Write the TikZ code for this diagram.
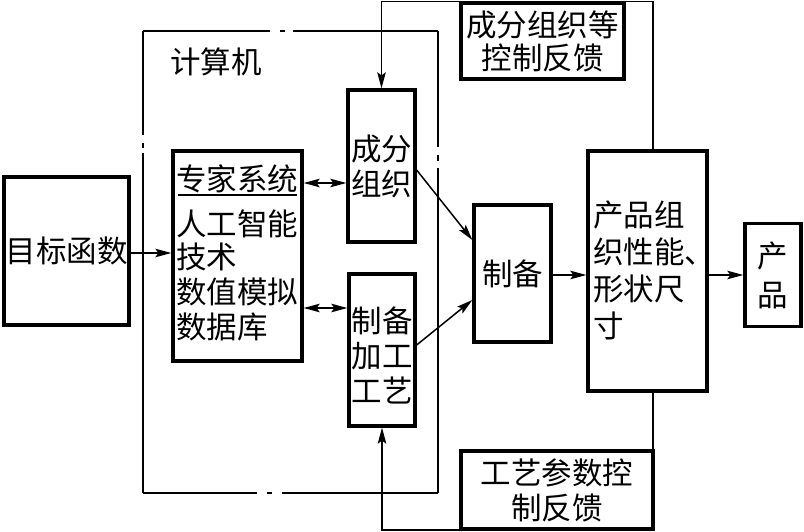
\documentclass[tikz,border=0pt]{standalone}
\usepackage{fontspec}
\setmainfont{Noto Sans CJK SC}
\usetikzlibrary{arrows.meta}
\begin{document}
\begin{tikzpicture}[x=1pt,y=-1pt,
  box/.style={draw, line width=3.3pt, inner sep=0pt, rectangle, fill=white},
  txt/.style={font=\fontsize{30.5}{35}\selectfont, inner sep=0pt, align=center},
  ln/.style={line width=1.5pt},
  arr/.style={ln, -{Stealth[length=16pt,width=8.5pt,inset=3pt]}},
  darr/.style={ln, {Stealth[length=16pt,width=8.5pt,inset=3pt]}-{Stealth[length=16pt,width=8.5pt,inset=3pt]}}]
\useasboundingbox (0,0) rectangle (804,532);

% computer boundary (dash-dot)
\draw[ln] (143,31) -- (270,31) (280,31) -- (285,31) (293,31) -- (438,31)
          (438,31) -- (438,147) (438,155) -- (438,161) (438,168) -- (438,493)
          (438,493) -- (282,493) (272,493) -- (267,493) (257,493) -- (143,493)
          (143,493) -- (143,153) (143,148) -- (143,143) (143,135) -- (143,31);
\node[txt] (computer) at (216,62) {计算机};

% feedback line corners
\coordinate (t1) at (653,1.5);
\coordinate (b1) at (653,530);

% boxes
\node[box, txt, minimum width=125pt, minimum height=148pt] (goal) at (66.5,251) {目标函数};
\node[box, minimum width=129pt, minimum height=210pt] (expert) at (237.5,256) {};
\node[txt, anchor=west] (e1) at (176,179) {专家系统};
\draw[ln] (178,195) -- (297,195);
\node[txt, anchor=west] (e2) at (176,224) {人工智能};
\node[txt, anchor=west] (e3) at (176,257) {技术};
\node[txt, anchor=west] (e4) at (176,292) {数值模拟};
\node[txt, anchor=west] (e5) at (176,327) {数据库};

\node[box, txt, minimum width=67pt, minimum height=152pt] (comp) at (381.5,166) {成分\\组织};
\node[box, minimum width=66pt, minimum height=152pt] (proc) at (382,350) {};
\node[txt] (proct) at (382,355) {制备\\加工\\工艺};
\node[box, txt, minimum width=77pt, minimum height=137pt] (prep) at (512.5,273.5) {制备};
\node[box, minimum width=119pt, minimum height=240pt] (prop) at (647.5,271) {};
\node[txt, anchor=west, align=left, font=\fontsize{30.5}{37}\selectfont] (propt) at (593,270) {产品组\\织性能、\\形状尺\\寸};
\node[box, txt, minimum width=56pt, minimum height=103pt, font=\fontsize{30.5}{39}\selectfont] (prod) at (773,275) {产\\品};

% connectors
\draw[arr] (goal.east |- 0,253) -- (expert.west |- 0,253);
\draw[darr] (expert.east |- 0,183) -- (comp.west |- 0,183);
\draw[darr] (expert.east |- 0,308) -- (proc.west |- 0,308);
\draw[arr] (comp.east |- 0,170) -- (prep.west |- 0,240);
\draw[arr] (proc.east |- 0,345) -- (prep.west |- 0,300);
\draw[arr] (prep.east |- 0,275) -- (prop.west |- 0,275);
\draw[arr] (prop.east |- 0,275) -- (prod.west |- 0,275);
\draw[arr] (prop.north -| t1) -- (t1) -| (comp.north);
\draw[arr] (prop.south -| b1) -- (b1) -| (proc.south);

% feedback boxes
\node[box, txt, minimum width=163pt, minimum height=76pt, font=\fontsize{30.5}{33}\selectfont] (fb1) at (542.5,41) {成分组织等\\控制反馈};
\node[box, txt, minimum width=192pt, minimum height=78pt] (fb2) at (557,490) {工艺参数控\\制反馈};
\end{tikzpicture}
\end{document}
